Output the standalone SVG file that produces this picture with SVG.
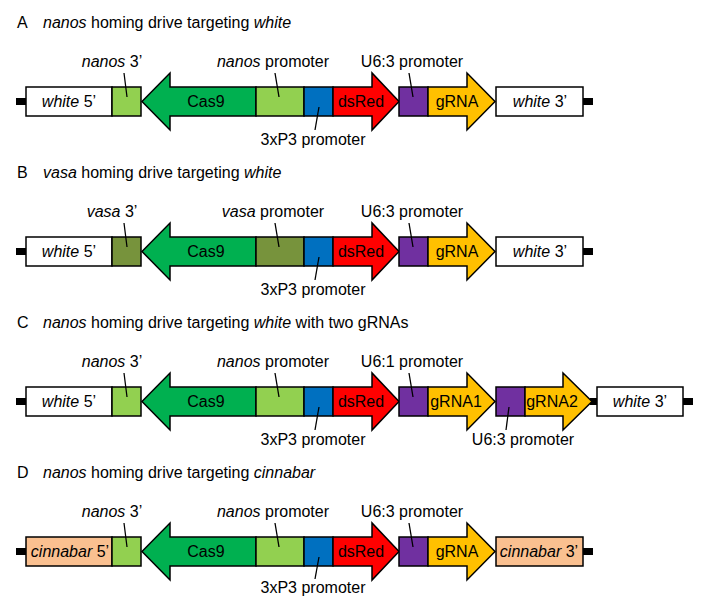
<svg xmlns="http://www.w3.org/2000/svg" width="703" height="597" viewBox="0 0 703 597">
<style>
.box{stroke:#000;stroke-width:1.5;stroke-linejoin:miter}
.t{font-family:"Liberation Sans",Arial,Helvetica,sans-serif;font-size:16px;fill:#000}
.c{text-anchor:middle}
.i{font-style:italic}
.lead{stroke:#000;stroke-width:1.3;fill:none}
.stub{fill:#000}
.wht{fill:#fff}
.lg{fill:#92D050}
.ol{fill:#77933C}
.cas{fill:#00B050}
.blu{fill:#0070C0}
.red{fill:#FF0000}
.pur{fill:#7030A0}
.gold{fill:#FFC000}
.pch{fill:#FAC090}
</style>
<rect width="703" height="597" fill="#fff"/>

<!-- Panel A -->
<g id="panelA">
  <g id="A-title"><text class="t" x="17" y="28">A</text><text class="t" x="43" y="28"><tspan class="i">nanos</tspan> homing drive targeting <tspan class="i">white</tspan></text></g>
  <g id="A-stubL"><rect class="stub" x="16" y="98" width="11" height="7"/></g>
  <g id="A-stubR"><rect class="stub" x="582" y="98" width="11" height="7"/></g>
  <g id="A-white5"><rect class="box wht" x="26" y="87" width="86" height="29"/><text class="t c" x="69" y="107"><tspan class="i">white</tspan> 5’</text></g>
  <g id="A-nanos3"><rect class="box lg" x="112" y="87" width="29" height="29"/><text class="t c" x="112" y="67"><tspan class="i">nanos</tspan> 3’</text></g>
  <g id="A-cas9"><polygon class="box cas" points="256,87 170,87 170,73 142,101.5 170,130 170,116 256,116"/><text class="t c" x="206" y="107">Cas9</text></g>
  <g id="A-nanosP"><rect class="box lg" x="256" y="87" width="48" height="29"/><text class="t c" x="273" y="67"><tspan class="i">nanos</tspan> promoter</text></g>
  <g id="A-3xP3"><rect class="box blu" x="304" y="87" width="29" height="29"/><text class="t c" x="313" y="145">3xP3 promoter</text></g>
  <g id="A-dsRed"><polygon class="box red" points="333,87 372,87 372,73 399,101.5 372,130 372,116 333,116"/><text class="t c" x="361" y="107">dsRed</text></g>
  <g id="A-U63"><rect class="box pur" x="399" y="87" width="29" height="29"/><text class="t c" x="412" y="67">U6:3 promoter</text></g>
  <g id="A-gRNA"><polygon class="box gold" points="428,87 467,87 467,73 495,101.5 467,130 467,116 428,116"/><text class="t c" x="457" y="107">gRNA</text></g>
  <g id="A-white3"><rect class="box wht" x="496" y="87" width="87" height="29"/><text class="t c" x="540" y="107"><tspan class="i">white</tspan> 3’</text></g>
</g>

<!-- Panel B -->
<g id="panelB" transform="translate(0,150)">
  <g id="B-title"><text class="t" x="17" y="28">B</text><text class="t" x="43" y="28"><tspan class="i">vasa</tspan> homing drive targeting <tspan class="i">white</tspan></text></g>
  <g id="B-stubL"><rect class="stub" x="16" y="98" width="11" height="7"/></g>
  <g id="B-stubR"><rect class="stub" x="582" y="98" width="11" height="7"/></g>
  <g id="B-white5"><rect class="box wht" x="26" y="87" width="86" height="29"/><text class="t c" x="69" y="107"><tspan class="i">white</tspan> 5’</text></g>
  <g id="B-vasa3"><rect class="box ol" x="112" y="87" width="29" height="29"/><text class="t c" x="112" y="67"><tspan class="i">vasa</tspan> 3’</text></g>
  <g id="B-cas9"><polygon class="box cas" points="256,87 170,87 170,73 142,101.5 170,130 170,116 256,116"/><text class="t c" x="206" y="107">Cas9</text></g>
  <g id="B-vasaP"><rect class="box ol" x="256" y="87" width="48" height="29"/><text class="t c" x="273" y="67"><tspan class="i">vasa</tspan> promoter</text></g>
  <g id="B-3xP3"><rect class="box blu" x="304" y="87" width="29" height="29"/><text class="t c" x="313" y="145">3xP3 promoter</text></g>
  <g id="B-dsRed"><polygon class="box red" points="333,87 372,87 372,73 399,101.5 372,130 372,116 333,116"/><text class="t c" x="361" y="107">dsRed</text></g>
  <g id="B-U63"><rect class="box pur" x="399" y="87" width="29" height="29"/><text class="t c" x="412" y="67">U6:3 promoter</text></g>
  <g id="B-gRNA"><polygon class="box gold" points="428,87 467,87 467,73 495,101.5 467,130 467,116 428,116"/><text class="t c" x="457" y="107">gRNA</text></g>
  <g id="B-white3"><rect class="box wht" x="496" y="87" width="87" height="29"/><text class="t c" x="540" y="107"><tspan class="i">white</tspan> 3’</text></g>
</g>

<!-- Panel C -->
<g id="panelC" transform="translate(0,300)">
  <g id="C-title"><text class="t" x="17" y="28">C</text><text class="t" x="43" y="28"><tspan class="i">nanos</tspan> homing drive targeting <tspan class="i">white</tspan> with two gRNAs</text></g>
  <g id="C-stubL"><rect class="stub" x="16" y="98" width="11" height="7"/></g>
  <g id="C-stubM"><rect class="stub" x="590" y="98" width="8" height="7"/></g>
  <g id="C-stubR"><rect class="stub" x="682" y="98" width="11" height="7"/></g>
  <g id="C-white5"><rect class="box wht" x="26" y="87" width="86" height="29"/><text class="t c" x="69" y="107"><tspan class="i">white</tspan> 5’</text></g>
  <g id="C-nanos3"><rect class="box lg" x="112" y="87" width="29" height="29"/><text class="t c" x="112" y="67"><tspan class="i">nanos</tspan> 3’</text></g>
  <g id="C-cas9"><polygon class="box cas" points="256,87 170,87 170,73 142,101.5 170,130 170,116 256,116"/><text class="t c" x="206" y="107">Cas9</text></g>
  <g id="C-nanosP"><rect class="box lg" x="256" y="87" width="48" height="29"/><text class="t c" x="273" y="67"><tspan class="i">nanos</tspan> promoter</text></g>
  <g id="C-3xP3"><rect class="box blu" x="304" y="87" width="29" height="29"/><text class="t c" x="313" y="145">3xP3 promoter</text></g>
  <g id="C-dsRed"><polygon class="box red" points="333,87 372,87 372,73 399,101.5 372,130 372,116 333,116"/><text class="t c" x="361" y="107">dsRed</text></g>
  <g id="C-U61"><rect class="box pur" x="399" y="87" width="29" height="29"/><text class="t c" x="412" y="67">U6:1 promoter</text></g>
  <g id="C-gRNA1"><polygon class="box gold" points="428,87 467,87 467,73 495,101.5 467,130 467,116 428,116"/><text class="t c" x="456" y="107">gRNA1</text></g>
  <g id="C-U63"><rect class="box pur" x="496" y="87" width="29" height="29"/><text class="t c" x="523" y="145">U6:3 promoter</text></g>
  <g id="C-gRNA2"><polygon class="box gold" points="525,87 563,87 563,73 592,101.5 563,130 563,116 525,116"/><text class="t c" x="552" y="107">gRNA2</text></g>
  <g id="C-white3"><rect class="box wht" x="597" y="87" width="86" height="29"/><text class="t c" x="640" y="107"><tspan class="i">white</tspan> 3’</text></g>
</g>

<!-- Panel D -->
<g id="panelD" transform="translate(0,450)">
  <g id="D-title"><text class="t" x="17" y="28">D</text><text class="t" x="43" y="28"><tspan class="i">nanos</tspan> homing drive targeting <tspan class="i">cinnabar</tspan></text></g>
  <g id="D-stubL"><rect class="stub" x="16" y="98" width="11" height="7"/></g>
  <g id="D-stubR"><rect class="stub" x="582" y="98" width="11" height="7"/></g>
  <g id="D-cin5"><rect class="box pch" x="26" y="87" width="86" height="29"/><text class="t c" x="70" y="107"><tspan class="i">cinnabar</tspan> 5’</text></g>
  <g id="D-nanos3"><rect class="box lg" x="112" y="87" width="29" height="29"/><text class="t c" x="112" y="67"><tspan class="i">nanos</tspan> 3’</text></g>
  <g id="D-cas9"><polygon class="box cas" points="256,87 170,87 170,73 142,101.5 170,130 170,116 256,116"/><text class="t c" x="206" y="107">Cas9</text></g>
  <g id="D-nanosP"><rect class="box lg" x="256" y="87" width="48" height="29"/><text class="t c" x="273" y="67"><tspan class="i">nanos</tspan> promoter</text></g>
  <g id="D-3xP3"><rect class="box blu" x="304" y="87" width="29" height="29"/><text class="t c" x="313" y="143">3xP3 promoter</text></g>
  <g id="D-dsRed"><polygon class="box red" points="333,87 372,87 372,73 399,101.5 372,130 372,116 333,116"/><text class="t c" x="361" y="107">dsRed</text></g>
  <g id="D-U63"><rect class="box pur" x="399" y="87" width="29" height="29"/><text class="t c" x="412" y="67">U6:3 promoter</text></g>
  <g id="D-gRNA"><polygon class="box gold" points="428,87 467,87 467,73 495,101.5 467,130 467,116 428,116"/><text class="t c" x="457" y="107">gRNA</text></g>
  <g id="D-cin3"><rect class="box pch" x="496" y="87" width="87" height="29"/><text class="t c" x="539" y="107"><tspan class="i">cinnabar</tspan> 3’</text></g>
</g>

<!-- Leader lines -->
<g id="connectors">
  <g id="leadA">
    <line class="lead" x1="124" y1="73" x2="127" y2="97"/>
    <line class="lead" x1="275" y1="73" x2="279" y2="97"/>
    <line class="lead" x1="319" y1="107" x2="315" y2="130"/>
    <line class="lead" x1="409" y1="73" x2="413" y2="97"/>
  </g>
  <g id="leadB" transform="translate(0,150)">
    <line class="lead" x1="124" y1="73" x2="127" y2="97"/>
    <line class="lead" x1="275" y1="73" x2="279" y2="97"/>
    <line class="lead" x1="319" y1="107" x2="315" y2="130"/>
    <line class="lead" x1="409" y1="73" x2="413" y2="97"/>
  </g>
  <g id="leadC" transform="translate(0,300)">
    <line class="lead" x1="124" y1="73" x2="127" y2="97"/>
    <line class="lead" x1="275" y1="73" x2="279" y2="97"/>
    <line class="lead" x1="319" y1="107" x2="315" y2="130"/>
    <line class="lead" x1="409" y1="73" x2="413" y2="97"/>
    <line class="lead" x1="509" y1="107" x2="506" y2="130"/>
  </g>
  <g id="leadD" transform="translate(0,450)">
    <line class="lead" x1="124" y1="73" x2="127" y2="97"/>
    <line class="lead" x1="275" y1="73" x2="279" y2="97"/>
    <line class="lead" x1="319" y1="107" x2="315" y2="129"/>
    <line class="lead" x1="409" y1="73" x2="413" y2="97"/>
  </g>
</g>
</svg>
